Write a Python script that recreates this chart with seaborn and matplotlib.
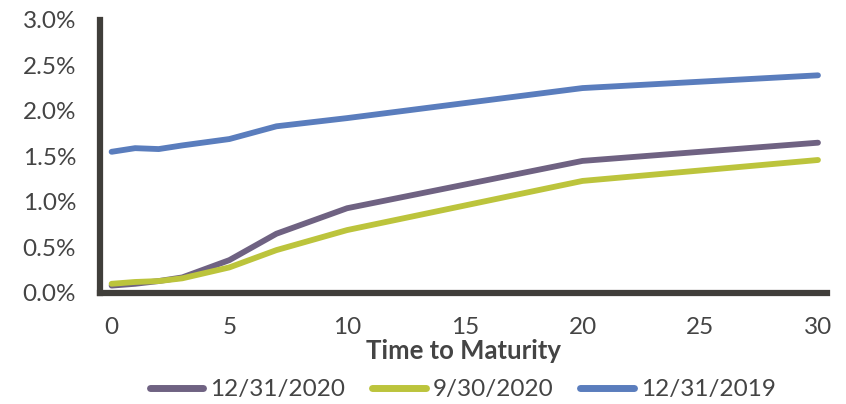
import matplotlib
matplotlib.use("Agg")
import matplotlib.pyplot as plt
from matplotlib.ticker import PercentFormatter
import seaborn as sns
import pandas as pd

# maturities (years) and yields (%)
maturity = [0, 1, 2, 3, 5, 7, 10, 20, 30]
y_2020_12 = [0.08, 0.10, 0.13, 0.17, 0.36, 0.65, 0.93, 1.45, 1.65]
y_2020_09 = [0.10, 0.12, 0.13, 0.16, 0.28, 0.47, 0.69, 1.23, 1.46]
y_2019_12 = [1.55, 1.59, 1.58, 1.62, 1.69, 1.83, 1.92, 2.25, 2.39]
series_names = ["12/31/2020", "9/30/2020", "12/31/2019"]
colors = ["#6f6282", "#bcc43c", "#5a7dbd"]

rows = []
for name, vals in zip(series_names, [y_2020_12, y_2020_09, y_2019_12]):
    for m, v in zip(maturity, vals):
        rows.append({"Maturity": m, "Yield": v, "Curve": name})
df = pd.DataFrame(rows)

sns.set_style("white")
plt.rcParams["font.family"] = ["Lato", "DejaVu Sans"]
txt = "#444444"
axc = "#403e3a"

fig = plt.figure(figsize=(8.46, 4.04), dpi=100)
ax = fig.add_axes([0.118, 0.275, 0.86, 0.676])

sns.lineplot(data=df, x="Maturity", y="Yield", hue="Curve", hue_order=series_names,
             palette=colors, linewidth=4.2, ax=ax, legend=True, sort=False)
for ln in ax.get_lines():
    ln.set_solid_capstyle("round")

ax.set_xlim(-0.5, 30.4)
ax.set_ylim(0, 3.0)
ax.set_xticks([0, 5, 10, 15, 20, 25, 30])
ax.set_yticks([0, 0.5, 1.0, 1.5, 2.0, 2.5, 3.0])
ax.yaxis.set_major_formatter(PercentFormatter(decimals=1))
ax.tick_params(axis="both", length=0, labelsize=17.5, labelcolor=txt)
ax.tick_params(axis="y", pad=17)
ax.tick_params(axis="x", pad=17)

for s in ["top", "right"]:
    ax.spines[s].set_visible(False)
for s in ["left", "bottom"]:
    ax.spines[s].set_linewidth(4.5)
    ax.spines[s].set_color(axc)

ax.set_xlabel("Time to Maturity", fontsize=18.5, fontweight="bold", color=txt, labelpad=1)
ax.set_ylabel("")

handles, labels = ax.get_legend_handles_labels()
for h in handles:
    h.set_linewidth(5)
    h.set_solid_capstyle("round")
ax.legend(handles, labels, loc="center", bbox_to_anchor=(0.547, 0.035),
          bbox_transform=fig.transFigure, ncol=3, frameon=False, fontsize=17.5,
          handlelength=2.2, handletextpad=0.3, columnspacing=1.1, labelcolor=txt,
          borderpad=0)

fig.savefig("out.png", dpi=100)
